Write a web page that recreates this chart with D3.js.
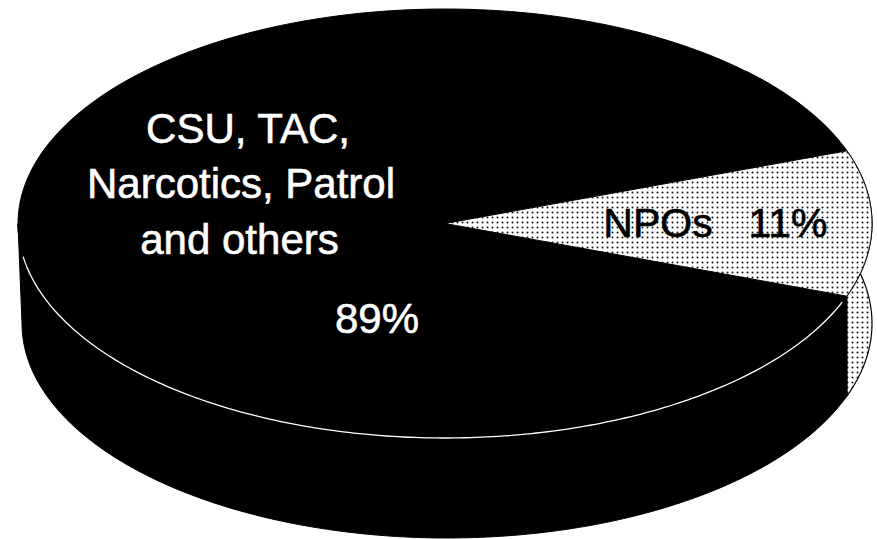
<!DOCTYPE html>
<html>
<head>
<meta charset="utf-8">
<script src="https://cdn.jsdelivr.net/npm/d3@7/dist/d3.min.js"></script>
<style>html,body{margin:0;padding:0;background:#fff}svg{display:block}</style>
</head>
<body>
<svg id="chart" width="877" height="539"></svg>
<script>
const categories = ["CSU, TAC, Narcotics, Patrol and others", "NPOs"];
const shares = [89, 11];
const shareLabels = ["89%", "11%"];
const bigLabelLines = ["CSU, TAC,", "Narcotics, Patrol", "and others"];

const svg = d3.select("#chart");
const cx = 445, cy = 223.5, rx = 427, ry = 214.5, depth = 100;

// Screen projection of the tilted disc
const px = d3.scaleLinear().domain([-1, 1]).range([cx - rx, cx + rx]);
const py = d3.scaleLinear().domain([-1, 1]).range([cy - ry, cy + ry]);
// The lower rim sits a touch to the right of the upper one
const pxLow = d3.scaleLinear().domain([-1, 1]).range([22, 872]);

// The NPO slice is centred on the 3 o'clock direction
const halfSweep = shares[1] / d3.sum(shares) * Math.PI;
const pie = d3.pie().sort(null).value(d => d)
  .startAngle(Math.PI / 2 + halfSweep)
  .endAngle(Math.PI / 2 + halfSweep + 2 * Math.PI);
const [bigSlice, npoSlice] = pie(shares);

const rimPath = (a0, a1) => d3.range(201).map(i => {
  const a = a0 + (a1 - a0) * i / 200;
  return [px(Math.sin(a)), py(-Math.cos(a))];
});
const lowRimPath = (a0, a1) => d3.range(201).map(i => {
  const a = a0 + (a1 - a0) * i / 200;
  return [pxLow(Math.sin(a)), py(-Math.cos(a)) + depth];
});
const line = d3.line();

// Halftone dots for the light slice
const pitch = 5;
const dots = svg.append("defs").append("pattern").attr("id", "halftone")
  .attr("patternUnits", "userSpaceOnUse").attr("width", pitch).attr("height", pitch);
dots.append("rect").attr("width", pitch).attr("height", pitch).attr("fill", "#fff");
dots.append("circle").attr("cx", pitch / 2).attr("cy", pitch / 2).attr("r", 1).attr("fill", "#111");

const wallStart = Math.PI / 2 + halfSweep;
const wallEnd = 3 * Math.PI / 2;

// Light part of the side wall, behind the black part
const lightWall = rimPath(Math.PI / 4, wallStart).concat(lowRimPath(wallStart, Math.PI / 4));
svg.append("path").attr("d", line(lightWall) + "Z")
  .attr("fill", "url(#halftone)").attr("stroke", "#000").attr("stroke-width", 1.2);

// Black part of the side wall
const darkWall = rimPath(wallStart, wallEnd).concat(lowRimPath(wallEnd, wallStart));
svg.append("path").attr("d", line(darkWall) + "Z").attr("fill", "#000").attr("stroke", "#000");

// Top face: the two slices
const slicePath = d => line([[cx, cy], ...rimPath(d.startAngle, d.endAngle)]) + "Z";
svg.append("path").attr("d", slicePath(bigSlice)).attr("fill", "#000").attr("stroke", "#000");
svg.append("path").attr("d", slicePath(npoSlice))
  .attr("fill", "url(#halftone)").attr("stroke", "#000").attr("stroke-width", 1);

// White hairline between the top face and the wall
svg.append("path")
  .attr("d", line(rimPath(wallStart + 0.03, wallEnd - 0.155)))
  .attr("fill", "none").attr("stroke", "#fff").attr("stroke-width", 1.3);

// Labels
const addText = (str, x, y, size, fill) => svg.append("text")
  .attr("x", x).attr("y", y).attr("text-anchor", "middle")
  .attr("font-family", "'Liberation Sans', Arial, sans-serif")
  .attr("font-size", size).attr("fill", fill)
  .attr("stroke", fill).attr("stroke-width", 0.6).text(str);

const bigX = [248, 241, 239.5], bigY = [143, 198, 254];
bigLabelLines.forEach((s, i) => addText(s, bigX[i], bigY[i], 42, "#fff"));
addText(shareLabels[0], 377, 333, 42, "#fff");
addText(categories[1], 658, 237, 41, "#000");
addText(shareLabels[1], 788, 237, 41, "#000");
</script>
</body>
</html>
